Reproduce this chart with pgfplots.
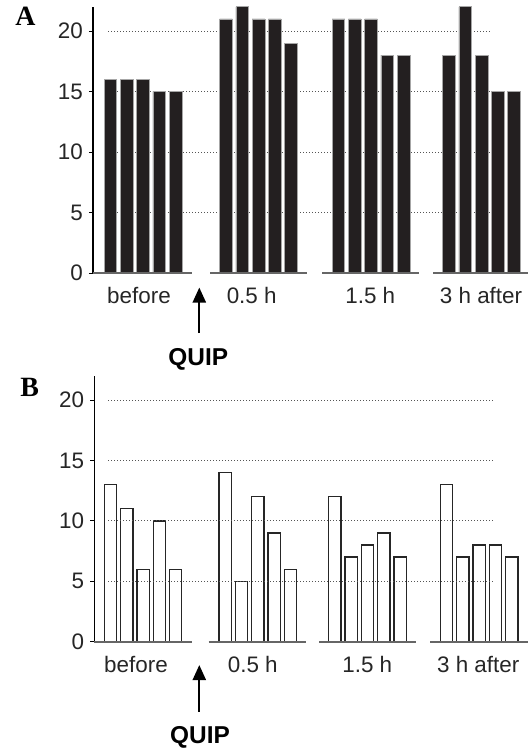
\documentclass[border=0pt]{standalone}
\usepackage{pgfplots}
\pgfplotsset{compat=1.18}
\usepackage{pgfplotstable}
\usepackage{fontspec}
\setmainfont{Liberation Sans}
\newfontfamily\serifb{Liberation Serif}
\usetikzlibrary{arrows.meta}
\definecolor{barfill}{HTML}{231F20}
\definecolor{gridc}{HTML}{555555}
\definecolor{basec}{HTML}{666666}

\pgfplotstableread{
x y
17.4 16
33.7 16
50 16
66.3 15
82.6 15
132.9 21
149.2 22
165.5 21
181.8 21
198.1 19
245.4 21
261.7 21
278 21
294.3 18
310.6 18
355.9 18
372.2 22
388.5 18
404.8 15
421.1 15
}\dataA

\pgfplotstableread{
x y
16.1 13
32.4 11
48.7 6
65.0 10
81.3 6
130.8 14
147.1 5
163.4 12
179.7 9
196.0 6
240.6 12
256.9 7
273.2 8
289.5 9
305.8 7
352.3 13
368.6 7
384.9 8
401.2 8
417.5 7
}\dataB

\pgfplotsset{
  panel/.style={
    scale only axis,
    anchor=origin,
    ymin=0, ymax=22,
    xmin=0,
    axis lines=left,
    axis line style={-},
    x axis line style={draw=none},
    y axis line style={line width=1.1bp, black},
    ytick={0,5,10,15,20},
    ytick style={line width=0.9bp, black},
    tick align=outside,
    major tick length=4bp,
    xtick style={draw=none},
    /pgf/number format/assume math mode=true,
    ticklabel style={font=\fontsize{22.5}{27}\selectfont, text=black!85},
    yticklabel style={anchor=east, inner sep=0pt, xshift=-6bp},
    xticklabel style={anchor=base, inner sep=0pt, yshift=-27bp},
    xticklabels={before,0.5 h,1.5 h,3 h after},
    clip=false,
  },
  gridl/.style={gridc, line width=0.8bp, dash pattern=on 1bp off 2bp},
  basel/.style={basec, line width=1.6bp},
}

\begin{document}
\begin{tikzpicture}
\path[use as bounding box] (0,0) rectangle (528bp,750bp);

% Panel A
\begin{axis}[panel, at={(93bp,477bp)}, width=435bp, height=266.2bp, xmax=435,
  xtick={46,158.7,277.3,388}]
\addplot[gridl] coordinates {(15,20) (398,20)};
\addplot[gridl] coordinates {(15,15) (398,15)};
\addplot[gridl] coordinates {(15,10) (398,10)};
\addplot[gridl] coordinates {(15,5) (398,5)};
\addplot[ybar, bar width=12.7, bar shift=0pt, fill=barfill, draw=gray!70, line width=0.6bp] table[x=x,y=y] {\dataA};
\addplot[basel] coordinates {(0,0) (99,0)};
\addplot[basel] coordinates {(117,0) (213.7,0)};
\addplot[basel] coordinates {(229,0) (326,0)};
\addplot[basel] coordinates {(340,0) (435,0)};
\draw[line width=2.2bp, -{Triangle[width=13bp,length=15bp]}] (axis cs:106.3,-4.96) -- (axis cs:106.3,-1.2);
\node[anchor=base, inner sep=0pt, font=\fontsize{24.5}{28}\selectfont\bfseries] at (axis cs:105.3,-7.62) {QUIP};
\end{axis}

% Panel B
\begin{axis}[panel, at={(94.3bp,108.3bp)}, width=433.7bp, height=265.8bp, xmax=433.7,
  xtick={41.7,158.5,273,383.9}]
\addplot[ybar, bar width=12.3, bar shift=0pt, fill=white, draw=black!85, line width=1.3bp] table[x=x,y=y] {\dataB};
\addplot[gridl] coordinates {(13.7,20) (398.7,20)};
\addplot[gridl] coordinates {(13.7,15) (398.7,15)};
\addplot[gridl] coordinates {(13.7,10) (398.7,10)};
\addplot[gridl] coordinates {(13.7,5) (398.7,5)};
\addplot[basel] coordinates {(0,0) (97.4,0)};
\addplot[basel] coordinates {(114.4,0) (212,0)};
\addplot[basel] coordinates {(224.7,0) (322,0)};
\addplot[basel] coordinates {(335.7,0) (433.7,0)};
\draw[line width=2.2bp, -{Triangle[width=13bp,length=15bp]}] (axis cs:105,-5.8) -- (axis cs:105,-1.93);
\node[anchor=base, inner sep=0pt, font=\fontsize{24.5}{28}\selectfont\bfseries] at (axis cs:105.7,-8.39) {QUIP};
\end{axis}

\node[anchor=base, inner sep=0pt, font=\fontsize{28}{30}\selectfont\serifb\bfseries] at (25.5bp,724bp) {A};
\node[anchor=base, inner sep=0pt, font=\fontsize{28}{30}\selectfont\serifb\bfseries] at (29.7bp,353bp) {B};
\end{tikzpicture}
\end{document}
